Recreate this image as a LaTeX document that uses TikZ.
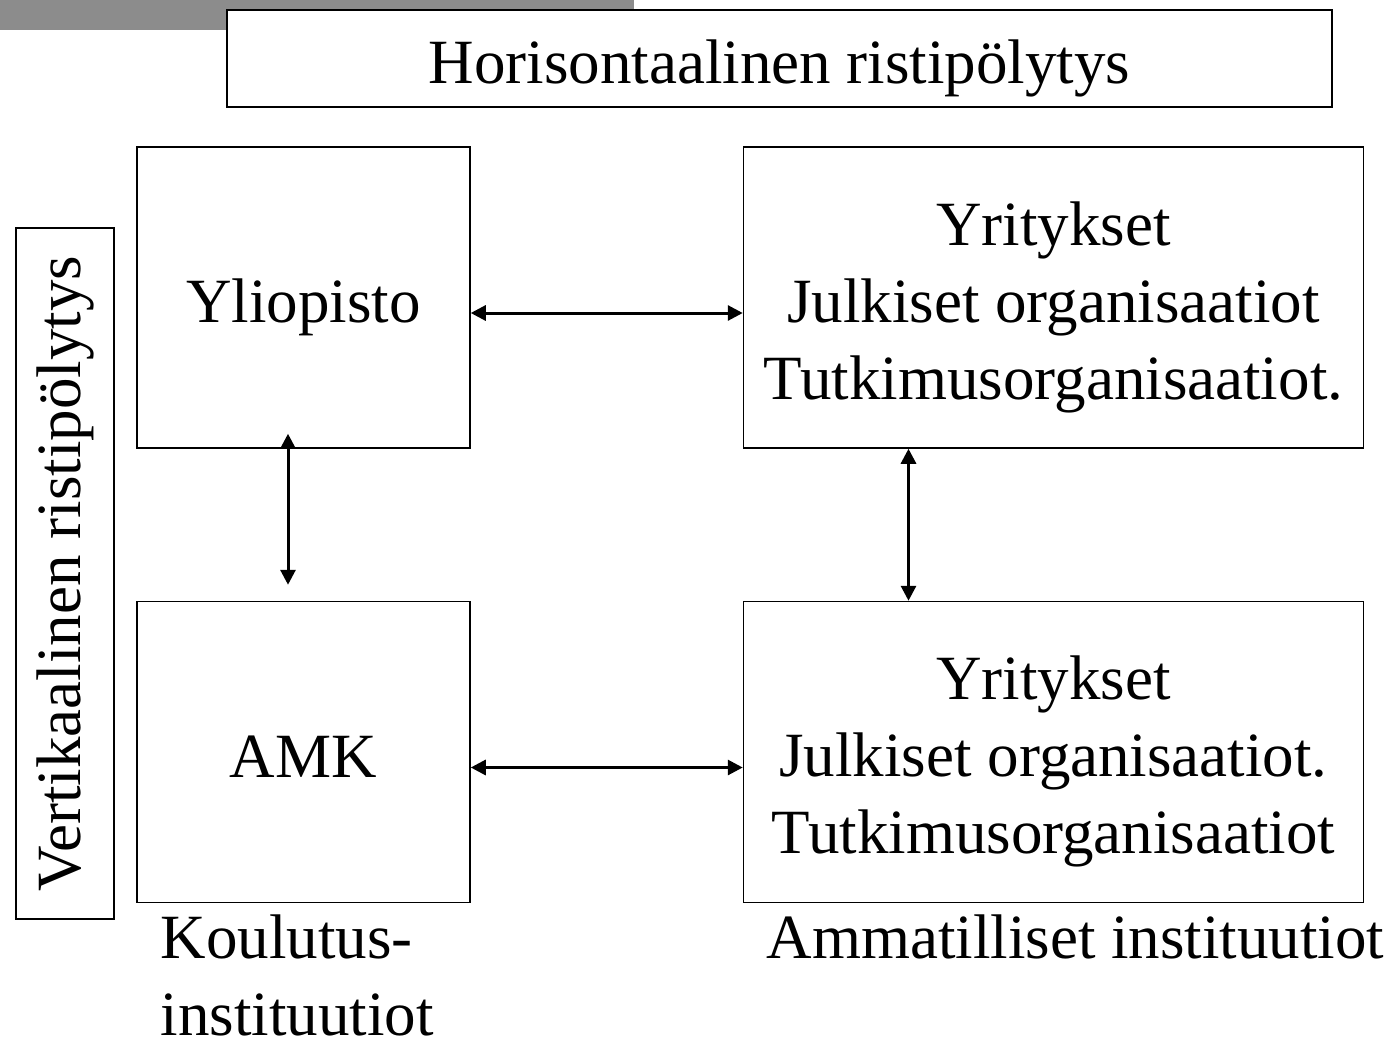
\documentclass[tikz,border=0pt]{standalone}
\usepackage{fontspec}
\setmainfont{Liberation Serif}
\usepackage{tikz}
\usetikzlibrary{arrows.meta, positioning}

\begin{document}
\begin{tikzpicture}[
    x=1pt, y=-1pt,
    font=\fontsize{63}{77}\selectfont,
    frame/.style={rectangle, draw, line width=1.5pt, fill=white, inner sep=0pt, align=center, text height=50pt, text depth=0pt},
    block/.style={frame, minimum width=333pt, minimum height=301pt},
    wideblock/.style={frame, minimum width=620pt, minimum height=301pt, text height=203pt},
    arrow/.style={{Triangle[length=15pt,width=15pt]}-{Triangle[length=15pt,width=15pt]}, line width=3pt},
]
    \useasboundingbox (0,0) rectangle (1394,1038);
    \fill[gray!90] (0,0) rectangle (634,30);

    \node[frame, minimum width=1105pt, minimum height=97pt] (title) at (779.5,58.5) {Horisontaalinen ristipölytys};
    \node[frame, minimum width=98pt, minimum height=691pt] (vert) at (65,573.5) {};
    \node[rotate=90] (vertlabel) at (vert.center) {Vertikaalinen ristipölytys};

    \node[block] (yliopisto) at (303.5,297.5) {Yliopisto};
    \node[wideblock, right=272pt of yliopisto] (yritys1) {Yritykset\\Julkiset organisaatiot\\Tutkimusorganisaatiot.};
    \node[block, below=152pt of yliopisto] (amk) {AMK};
    \node[wideblock, right=272pt of amk] (yritys2) {Yritykset\\Julkiset organisaatiot.\\Tutkimusorganisaatiot};

    % base of a two-line node is the last line
    \node[anchor=base west, align=left] (koulutus) at (157,1035) {Koulutus-\\instituutiot};
    \node[anchor=base west] (ammatilliset) at (763,958) {Ammatilliset instituutiot};

    \draw[arrow] ([yshift=-15.5pt]yliopisto.east) -- ([yshift=-15.5pt]yritys1.west);
    \draw[arrow] ([yshift=-15.5pt]amk.east) -- ([yshift=-15.5pt]yritys2.west);
    \draw[arrow] ([xshift=-15.5pt,yshift=15pt]yliopisto.south) -- ([xshift=-15.5pt,yshift=16pt]amk.north);
    \draw[arrow] ([xshift=-145pt]yritys1.south) -- ([xshift=-145pt]yritys2.north);
\end{tikzpicture}
\end{document}
